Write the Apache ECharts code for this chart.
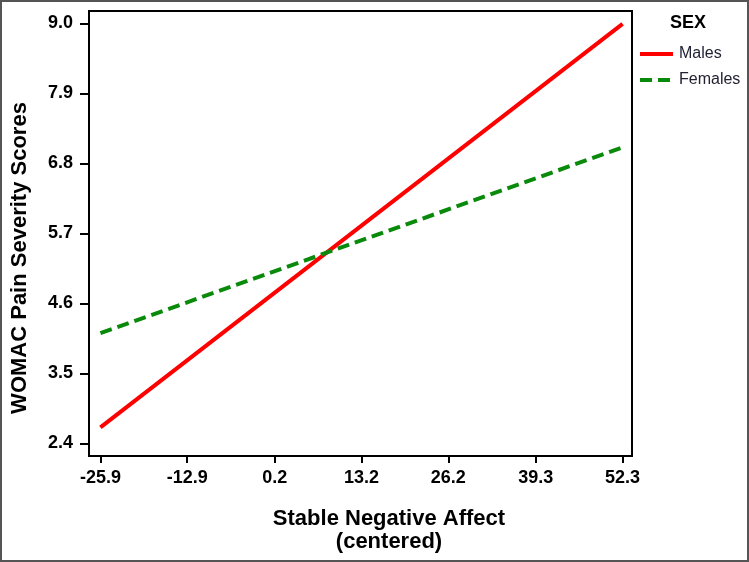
<!DOCTYPE html>
<html>
<head>
<meta charset="utf-8">
<script src="https://cdn.jsdelivr.net/npm/echarts@6/dist/echarts.min.js"></script>
<style>
html,body{margin:0;padding:0;background:#fff;}
#chart{width:749px;height:562px;}
</style>
</head>
<body>
<div id="chart"></div>
<script>
// ---- data ----
const xTicks = [-25.9, -12.9, 0.2, 13.2, 26.2, 39.3, 52.3];
const yTicks = [2.4, 3.5, 4.6, 5.7, 6.8, 7.9, 9.0];
const xEnds = [-25.9, 52.3];
const males = [2.65, 8.99];
const females = [4.13, 7.05];
const seriesNames = ['Males', 'Females'];
const legendTitle = 'SEX';
const xTitle = 'Stable Negative Affect';
const xSubTitle = '(centered)';
const yTitle = 'WOMAC Pain Severity Scores';

const FONT = 'Liberation Sans, Arial, sans-serif';
const chart = echarts.init(document.getElementById('chart'), null, {renderer: 'canvas'});

const option = {
  animation: false,
  backgroundColor: '#fff',
  grid: {
    left: 89, right: 117, top: 11, bottom: 106,
    show: true, borderColor: '#000', borderWidth: 2, backgroundColor: 'transparent'
  },
  title: {
    text: legendTitle, left: 665, top: 9,
    textStyle: {fontFamily: FONT, fontSize: 18, fontWeight: 'bold', color: '#000'}
  },
  legend: {
    orient: 'vertical', left: 633, top: 41,
    itemWidth: 33, itemHeight: 14, itemGap: 10,
    itemStyle: {color: 'rgba(0,0,0,0)', borderColor: 'rgba(0,0,0,0)', borderWidth: 0},
    lineStyle: {width: 4, type: 'inherit'},
    textStyle: {fontFamily: FONT, fontSize: 16, color: '#222233', padding: [0, 0, 0, 1]},
    data: seriesNames
  },
  xAxis: {
    type: 'value', min: -27.61, max: 53.71,
    axisLine: {show: true, onZero: false, lineStyle: {color: '#000', width: 2}},
    axisTick: {show: true, length: 7, lineStyle: {color: '#000', width: 2}, customValues: xTicks},
    axisLabel: {
      show: true, margin: 13, customValues: xTicks,
      fontFamily: FONT, fontSize: 18, fontWeight: 'bold', color: '#000',
      formatter: v => v.toFixed(1)
    },
    splitLine: {show: false}
  },
  yAxis: {
    type: 'value', min: 2.2, max: 9.193,
    axisLine: {show: true, onZero: false, lineStyle: {color: '#000', width: 2}},
    axisTick: {show: true, length: 9, lineStyle: {color: '#000', width: 2}, customValues: yTicks},
    axisLabel: {
      show: true, margin: 16, customValues: yTicks,
      fontFamily: FONT, fontSize: 18, fontWeight: 'bold', color: '#000',
      formatter: v => v.toFixed(1)
    },
    splitLine: {show: false}
  },
  series: [
    {
      name: seriesNames[0], type: 'line', symbol: 'none',
      data: xEnds.map((x, i) => [x, males[i]]),
      lineStyle: {color: '#ff0000', width: 4, type: 'solid'},
      itemStyle: {color: '#ff0000'}
    },
    {
      name: seriesNames[1], type: 'line', symbol: 'none',
      data: xEnds.map((x, i) => [x, females[i]]),
      lineStyle: {color: '#0a8a0a', width: 4, type: [12, 6]},
      itemStyle: {color: '#0a8a0a'}
    }
  ],
  graphic: [
    {
      type: 'rect', silent: true,
      shape: {x: 1, y: 1, width: 747, height: 560},
      style: {fill: 'none', stroke: '#555', lineWidth: 2}
    },
    {
      type: 'text', x: 20, y: 258, rotation: Math.PI / 2,
      style: {
        text: yTitle, fontFamily: FONT, fontSize: 22, fontWeight: 'bold',
        fill: '#000', align: 'center', verticalAlign: 'middle'
      }
    },
    {
      type: 'text', x: 389, y: 519,
      style: {
        text: xTitle, fontFamily: FONT, fontSize: 22, fontWeight: 'bold',
        fill: '#000', align: 'center', verticalAlign: 'middle'
      }
    },
    {
      type: 'text', x: 389, y: 542,
      style: {
        text: xSubTitle, fontFamily: FONT, fontSize: 22, fontWeight: 'bold',
        fill: '#000', align: 'center', verticalAlign: 'middle'
      }
    }
  ]
};
chart.setOption(option);
</script>
</body>
</html>
